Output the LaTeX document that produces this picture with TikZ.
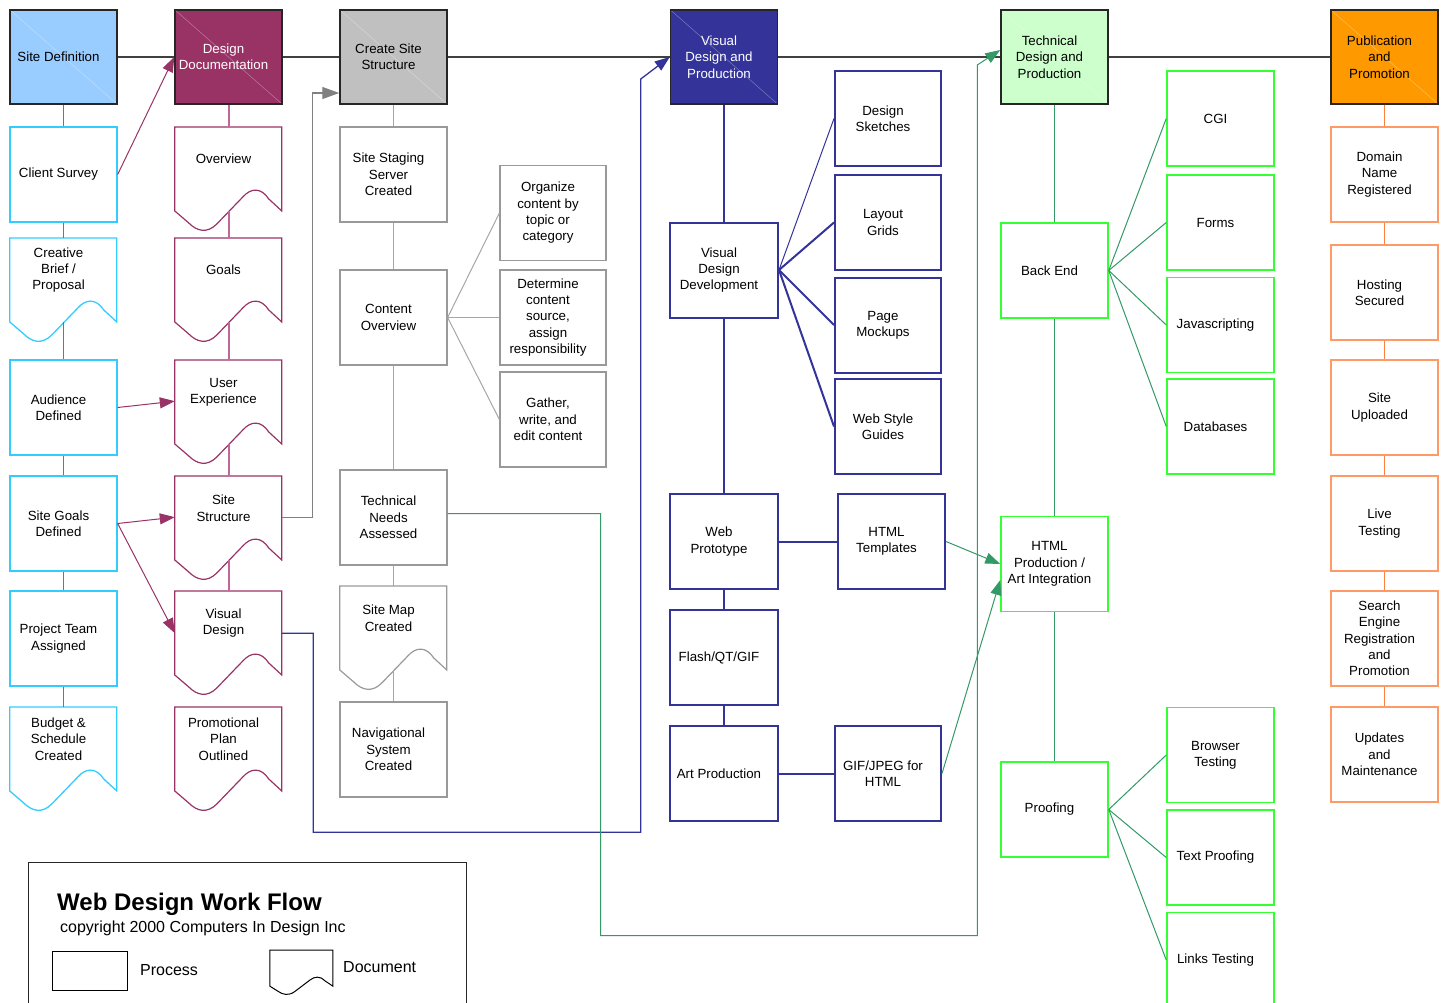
\documentclass[tikz,border=0pt]{standalone}
\usepackage{fontspec}
\setmainfont{Liberation Sans}
\usetikzlibrary{arrows.meta}

\definecolor{sdfill}{HTML}{99CCFF}
\definecolor{ddfill}{HTML}{993366}
\definecolor{csfill}{HTML}{C0C0C0}
\definecolor{vdfill}{HTML}{333399}
\definecolor{tdfill}{HTML}{CCFFCC}
\definecolor{ppfill}{HTML}{FF9900}
\definecolor{topedge}{HTML}{262626}
\definecolor{maingray}{HTML}{404040}
\definecolor{cyanedge}{HTML}{33CCFF}
\definecolor{tealc}{HTML}{339966}
\definecolor{magc}{HTML}{C06699}
\definecolor{grayedge}{HTML}{999999}
\definecolor{grayc}{HTML}{A6A6A6}
\definecolor{grayarr}{HTML}{808080}
\definecolor{navy}{HTML}{333399}
\definecolor{greenedge}{HTML}{33FF33}
\definecolor{orangeedge}{HTML}{FF9966}
\definecolor{orangec}{HTML}{FF7F40}

\tikzset{
  lefttext/.style={align=center, execute at end node={\hspace*{10pt}}},
  box/.style={draw, minimum width=107, minimum height=95, inner sep=1pt, lefttext},
  docbox/.style={minimum width=107, minimum height=64, anchor=north, inner sep=1pt, lefttext},
  topbox/.style={box, draw=topedge, line width=1.5pt, minimum height=94,
    path picture={\draw[white,opacity=.35,line width=.5pt] (path picture bounding box.north west) -- (path picture bounding box.south east);}},
  cyanpen/.style={draw=cyanedge, line width=1.3pt},
  magpen/.style={draw=ddfill, line width=1.2pt},
  graypen/.style={draw=grayedge, line width=1.2pt},
  blackpen/.style={draw=black, line width=1pt},
  cyanbox/.style={box, cyanpen},
  graybox/.style={box, graypen},
  navybox/.style={box, draw=navy, line width=2pt},
  greenbox/.style={box, draw=greenedge, line width=1.5pt},
  orangebox/.style={box, draw=orangeedge, line width=1.5pt},
  mainline/.style={draw=maingray, line width=1.2pt},
  tealconn/.style={draw=tealc, line width=1pt},
  magconn/.style={draw=magc, line width=2pt},
  grayconn/.style={draw=grayc, line width=1.5pt},
  navyconn/.style={draw=navy, line width=2pt},
  orangeconn/.style={draw=orangec, line width=1.5pt},
  magarrow/.style={draw=ddfill, line width=1pt, -{Triangle[length=15pt,width=11pt]}},
  grayarrow/.style={draw=grayarr, line width=1.2pt, -{Triangle[length=17pt,width=12pt]}},
  navyarrow/.style={draw=navy, line width=1.3pt, -{Triangle[length=15pt,width=11pt]}},
  greenarrow/.style={draw=tealc, line width=1pt, -{Triangle[length=15pt,width=11pt]}},
  pics/docshape/.style={code={
    \draw[#1] (0,0) -- (0,84) -- (14,96) .. controls (22,104) and (32,107) .. (42,97)
      -- (68,70) .. controls (76,61) and (86,60) .. (94,72) -- (107,84) -- (107,0) -- cycle;}}
}

\begin{document}
\begin{tikzpicture}[x=1pt,y=-1pt,font=\fontsize{13.3}{16.3}\selectfont]
\useasboundingbox (0,0) rectangle (1442,1003);

\node[topbox,fill=sdfill] (sitedef) at (63.5,57) {Site Definition};
\node[topbox,fill=ddfill,text=white] (designdoc) at (228.5,57) {Design\\Documentation};
\node[topbox,fill=csfill] (createsite) at (393.5,57) {Create Site\\Structure};
\node[topbox,fill=vdfill,text=white] (visprod) at (724,57) {Visual\\Design and\\Production};
\node[topbox,fill=tdfill] (techprod) at (1054.5,57) {Technical\\Design and\\Production};
\node[topbox,fill=ppfill] (pubprom) at (1384.5,57) {Publication\\and\\Promotion};

\node[cyanbox] (survey) at (63.5,174.5) {Client Survey};
\node[docbox] (brief) at (63.5,238) {Creative\\Brief /\\Proposal};
\node[cyanbox] (audience) at (63.5,407.5) {Audience\\Defined};
\node[cyanbox] (goalsdef) at (63.5,523.5) {Site Goals\\Defined};
\node[cyanbox] (team) at (63.5,638.5) {Project Team\\Assigned};
\node[docbox] (budget) at (63.5,707) {Budget \&\\Schedule\\Created};

\node[docbox] (overview) at (228.5,127) {Overview};
\node[docbox] (goals) at (228.5,238) {Goals};
\node[docbox] (userexp) at (228.5,360) {User\\Experience};
\node[docbox] (structure) at (228.5,476) {Site\\Structure};
\node[docbox] (visdesign) at (228.5,591) {Visual\\Design};
\node[docbox] (promoplan) at (228.5,707) {Promotional\\Plan\\Outlined};

\node[graybox] (staging) at (393.5,174.5) {Site Staging\\Server\\Created};
\node[graybox] (content) at (393.5,317.5) {Content\\Overview};
\node[graybox] (technical) at (393.5,517.5) {Technical\\Needs\\Assessed};
\node[docbox] (sitemap) at (393.5,586) {Site Map\\Created};
\node[graybox] (navsys) at (393.5,749.5) {Navigational\\System\\Created};

\node[graybox,minimum width=106] (organize) at (553,213) {Organize\\content by\\topic or\\category};
\node[graybox,minimum width=106] (determine) at (553,317.5) {Determine\\content\\source,\\assign\\responsibility};
\node[graybox,minimum width=106] (gather) at (553,419.5) {Gather,\\write, and\\edit content};

\node[navybox,minimum width=108] (vdd) at (724,270) {Visual\\Design\\Development};
\node[navybox,minimum width=108] (webproto) at (724,541.5) {Web\\Prototype};
\node[navybox,minimum width=108] (flash) at (724,657.5) {Flash/QT/GIF};
\node[navybox,minimum width=108] (artprod) at (724,773.5) {Art Production};

\node[navybox,minimum width=106] (sketches) at (888,118.5) {Design\\Sketches};
\node[navybox,minimum width=106] (grids) at (888,222.5) {Layout\\Grids};
\node[navybox,minimum width=106] (mockups) at (888,325) {Page\\Mockups};
\node[navybox,minimum width=106] (styleguides) at (888,426.5) {Web Style\\Guides};
\node[navybox] (templates) at (891.5,541.5) {HTML\\Templates};
\node[navybox,minimum width=106] (gifjpeg) at (888,773.5) {GIF/JPEG for\\HTML};

\node[greenbox] (backend) at (1054.5,270.5) {Back End};
\node[greenbox] (htmlprod) at (1054.5,564) {HTML\\Production /\\Art Integration};
\node[greenbox] (proofing) at (1054.5,809.5) {Proofing};

\node[greenbox] (cgi) at (1220.5,118.5) {CGI};
\node[greenbox] (forms) at (1220.5,222.5) {Forms};
\node[greenbox] (jscript) at (1220.5,325) {Javascripting};
\node[greenbox] (databases) at (1220.5,426.5) {Databases};
\node[greenbox] (browser) at (1220.5,755) {Browser\\Testing};
\node[greenbox] (textproof) at (1220.5,857.5) {Text Proofing};
\node[greenbox] (links) at (1220.5,960) {Links Testing};

\node[orangebox] (domain) at (1384.5,174.5) {Domain\\Name\\Registered};
\node[orangebox] (hosting) at (1384.5,292.5) {Hosting\\Secured};
\node[orangebox] (uploaded) at (1384.5,407.5) {Site\\Uploaded};
\node[orangebox] (livetest) at (1384.5,523.5) {Live\\Testing};
\node[orangebox] (search) at (1384.5,638.5) {Search\\Engine\\Registration\\and\\Promotion};
\node[orangebox] (updates) at (1384.5,754.5) {Updates\\and\\Maintenance};

\foreach \d/\p in {brief/cyanpen,budget/cyanpen,overview/magpen,goals/magpen,userexp/magpen,structure/magpen,visdesign/magpen,promoplan/magpen,sitemap/graypen}
  \pic at (\d.north west) {docshape=\p};

\draw[mainline] (sitedef) -- (designdoc) -- (createsite) -- (visprod) -- (techprod) -- (pubprom);

\draw[tealconn] (sitedef) -- (survey) -- (brief);
\draw[tealconn] ([yshift=-84pt]brief.north) -- (audience) -- (goalsdef) -- (team) -- (budget);
\draw[magconn] (designdoc) -- (overview);
\foreach \a/\b in {overview/goals,goals/userexp,userexp/structure,structure/visdesign}
  \draw[magconn] ([yshift=-84pt]\a.north) -- (\b);
\draw[grayconn] (createsite) -- (staging) -- (content) -- (technical) -- (sitemap);
\draw[grayconn] ([yshift=-84pt]sitemap.north) -- (navsys);
\draw[navyconn] (visprod) -- (vdd) -- (webproto) -- (flash) -- (artprod);
\draw[navyconn] (webproto) -- (templates);
\draw[navyconn] (artprod) -- (gifjpeg);
\draw[tealconn] (techprod) -- (backend) -- (htmlprod) -- (proofing);
\draw[orangeconn] (pubprom) -- (domain) -- (hosting) -- (uploaded) -- (livetest) -- (search) -- (updates);

\foreach \t in {organize,determine,gather}
  \draw[grayconn,line width=1pt] (content.east) -- (\t.west);
\draw[navyconn,line width=1pt] (vdd.east) -- (sketches.west);
\foreach \t in {grids,mockups,styleguides}
  \draw[navyconn] (vdd.east) -- (\t.west);
\foreach \t in {cgi,forms,jscript,databases}
  \draw[tealconn] (backend.east) -- (\t.west);
\foreach \t in {browser,textproof,links}
  \draw[tealconn] (proofing.east) -- (\t.west);

\draw[magarrow] (survey.east) -- (designdoc.west);
\draw[magarrow] (audience.east) -- ([yshift=-9pt]userexp.west);
\draw[magarrow] (goalsdef.east) -- ([yshift=-9pt]structure.west);
\draw[magarrow] (goalsdef.east) -- ([yshift=-10pt]visdesign.west);
\draw[grayarrow] ([yshift=-9pt]structure.east) -| ([xshift=-27pt,yshift=-36pt]createsite.west) -- ([yshift=-36pt]createsite.west);
\draw[navyarrow] ([yshift=-10pt]visdesign.east) -- ++(31,0) -- ++(0,199) -| ([xshift=-29pt,yshift=-22pt]visprod.west) -- (visprod.west);
\draw[greenarrow] ([yshift=4pt]technical.east) -- ++(153,0) -- ++(0,422) -| ([xshift=-23pt,yshift=-8pt]techprod.west) -- ([yshift=7pt]techprod.west);
\draw[greenarrow] (templates.east) -- (htmlprod.west);
\draw[greenarrow] (gifjpeg.east) -- ([yshift=-16pt]htmlprod.west);

\draw[draw=topedge,line width=1pt] (28,862) rectangle (466,1015);
\node[anchor=west,inner sep=0,font=\fontsize{24}{28}\selectfont\bfseries] (title) at (57,904) {Web Design Work Flow};
\node[anchor=west,inner sep=0,font=\fontsize{16}{19}\selectfont] (copyright) at (60,928) {copyright 2000 Computers In Design Inc};
\node[draw,line width=1pt,minimum width=75,minimum height=39] (legproc) at (89.5,970.5) {};
\node[anchor=west,inner sep=0,font=\fontsize{16}{19}\selectfont] (proctext) at (140,970) {Process};
\node[minimum width=63,minimum height=27,anchor=north,inner sep=0] (legdoc) at (301.5,950) {};
\pic[xscale=0.589,yscale=0.43] at (legdoc.north west) {docshape=blackpen};
\node[anchor=west,inner sep=0,font=\fontsize{16}{19}\selectfont] (doctext) at (343,967) {Document};
\end{tikzpicture}
\end{document}
